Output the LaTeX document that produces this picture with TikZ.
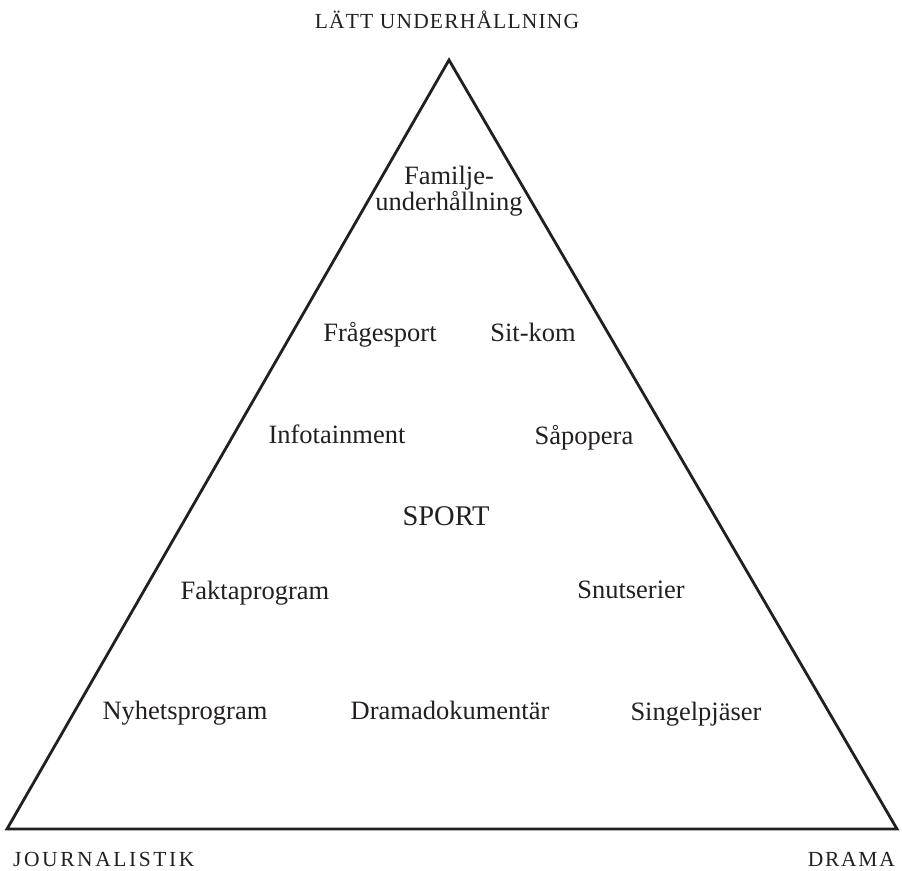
\documentclass[tikz,border=0pt]{standalone}
\usepackage{fontspec}
\setmainfont{Liberation Serif}
\definecolor{ink}{RGB}{35,31,32}
\begin{document}
\begin{tikzpicture}[x=1pt,y=-1pt,
  lbl/.style={anchor=base,inner sep=0pt,text=ink,font=\fontsize{26.5}{26}\selectfont},
  big/.style={anchor=base,inner sep=0pt,text=ink,font=\fontsize{28.5}{30}\selectfont},
  corner/.style={inner sep=0pt,text=ink,font=\fontsize{21.5}{22}\selectfont}]
\useasboundingbox (0,0) rectangle (902,870);
\coordinate (A) at (449,60);
\coordinate (L) at (7,829);
\coordinate (R) at (897,829);
\draw[line width=2.8pt,ink,line join=miter] (L) -- (A) -- (R) -- cycle;
\node[corner,anchor=base] (top) at (447,28) {\addfontfeature{LetterSpace=5.5}LÄTT UNDERHÅLLNING};
\node[corner,anchor=base west] (jour) at (13,866) {\addfontfeature{LetterSpace=12}JOURNALISTIK};
\node[corner,anchor=base east] (drama) at (895,866) {\addfontfeature{LetterSpace=8}DRAMA};
\node[lbl,align=center] (fam) at (449,210) {Familje-\\underhållning};
\node[lbl] (fra) at (380,341) {Frågesport};
\node[lbl] (sit) at (533,341) {Sit-kom};
\node[lbl] (info) at (337,443) {Infotainment};
\node[lbl] (sapo) at (584,444) {Såpopera};
\node[big] (sport) at (446,525) {SPORT};
\node[lbl] (fakta) at (255,599) {Faktaprogram};
\node[lbl] (snut) at (631,598) {Snutserier};
\node[lbl] (nyh) at (185,719) {Nyhetsprogram};
\node[lbl] (dram) at (450,719) {Dramadokumentär};
\node[lbl] (sing) at (696,720) {Singelpjäser};
\end{tikzpicture}
\end{document}
